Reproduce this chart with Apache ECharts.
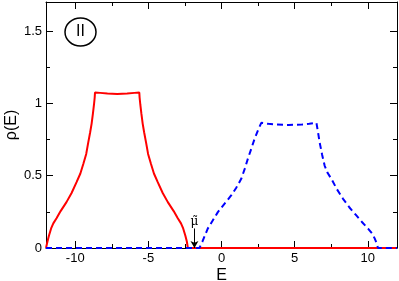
<!DOCTYPE html>
<html>
<head>
<meta charset="utf-8">
<script src="https://cdn.jsdelivr.net/npm/echarts@6/dist/echarts.min.js"></script>
<style>html,body{margin:0;padding:0;background:#fff}#c{width:399px;height:281px}</style>
</head>
<body>
<div id="c"></div>
<script>
// Tick values
const xMajorTicks = [-10, -5, 0, 5, 10];
const xMinorTicks = [-7.5, -2.5, 2.5, 7.5];
const yMajorTicks = [0, 0.5, 1, 1.5];
const yMinorTicks = [0.25, 0.75, 1.25];

// Red solid curve (E, rho)
const redE   = [-12, -11.9, -11.8, -11.65, -11.5, -11.28, -11.0, -10.6, -10.25, -9.91, -9.65, -9.45, -9.25, -9.11, -8.98, -8.88, -8.79, -8.72, -8.67, -8.65,
                -8.3, -7.8, -7.13, -6.45, -5.95,
                -5.62, -5.60, -5.55, -5.48, -5.39, -5.29, -5.16, -5.02, -4.82, -4.62, -4.36, -4.02, -3.67, -3.27, -2.99, -2.77, -2.62, -2.47, -2.37, -2.3, 12];
const redRho = [0, 0.045, 0.085, 0.135, 0.17, 0.205, 0.255, 0.317, 0.38, 0.455, 0.515, 0.58, 0.65, 0.73, 0.80, 0.86, 0.93, 0.99, 1.04, 1.075,
                1.072, 1.067, 1.065, 1.067, 1.072,
                1.075, 1.04, 0.99, 0.93, 0.86, 0.80, 0.73, 0.65, 0.58, 0.515, 0.455, 0.38, 0.317, 0.255, 0.205, 0.17, 0.135, 0.085, 0.045, 0, 0];

// Blue dashed curve (E, rho)
const blueE   = [-12, -1.51, -1.3, -1.1, -0.94, -0.6, -0.25, 0.2, 0.66, 1.0, 1.35, 1.6, 1.8, 2.05, 2.26, 2.5, 2.72,
                 3.2, 3.7, 4.6, 5.5, 6.0,
                 6.49, 6.6, 6.71, 6.88, 7.05, 7.25, 7.51, 7.9, 8.31, 8.75, 9.22, 9.62, 10.02, 10.3, 10.48, 10.62, 10.7, 12];
const blueRho = [0, 0, 0.045, 0.095, 0.134, 0.19, 0.248, 0.305, 0.363, 0.415, 0.478, 0.55, 0.616, 0.69, 0.754, 0.815, 0.865,
                 0.858, 0.853, 0.85, 0.853, 0.858,
                 0.865, 0.80, 0.73, 0.645, 0.57, 0.52, 0.478, 0.405, 0.34, 0.28, 0.225, 0.178, 0.134, 0.10, 0.065, 0.03, 0, 0];

// Annotation: mu-tilde arrow
const muTildeE = -1.85;
const muArrowTop = 0.135;
const muLabel = 'μ̃';
const panelLabel = 'II';

const redData = redE.map((e, i) => [e, redRho[i]]);
const blueData = blueE.map((e, i) => [e, blueRho[i]]);

const font = 'Liberation Sans, Arial, Helvetica, sans-serif';
const black = '#000';

function xAx(position, ticks, len, showLine, showLabels, extra) {
  return Object.assign({
    type: 'value', position: position, min: -12, max: 12,
    axisLine: {show: showLine, onZero: false, lineStyle: {color: black, width: 1}},
    axisTick: {show: true, inside: true, length: len, customValues: ticks, lineStyle: {color: black, width: 1}},
    axisLabel: showLabels ? {show: true, customValues: ticks, color: black, fontSize: 13, fontFamily: font, margin: 4} : {show: false},
    splitLine: {show: false}
  }, extra || {});
}
function yAx(position, ticks, len, showLine, showLabels, extra) {
  return Object.assign({
    type: 'value', position: position, min: 0, max: 1.7,
    axisLine: {show: showLine, onZero: false, lineStyle: {color: black, width: 1}},
    axisTick: {show: true, inside: true, length: len, customValues: ticks, lineStyle: {color: black, width: 1}},
    axisLabel: showLabels ? {show: true, customValues: ticks, color: black, fontSize: 13, fontFamily: font, margin: 4} : {show: false},
    splitLine: {show: false}
  }, extra || {});
}

const chart = echarts.init(document.getElementById('c'), null, {renderer: 'canvas'});
chart.setOption({
  animation: false,
  backgroundColor: '#fff',
  grid: {left: 46, right: 2, top: 2, bottom: 33, containLabel: false, outerBoundsMode: 'none'},
  xAxis: [
    xAx('bottom', xMajorTicks, 7, true, true, {name: 'E', nameLocation: 'middle', nameGap: 20, nameMoveOverlap: false,
      nameTextStyle: {fontSize: 16, color: black, fontFamily: font}}),
    xAx('bottom', xMinorTicks, 4, false, false),
    xAx('top', xMajorTicks, 7, true, false),
    xAx('top', xMinorTicks, 4, false, false)
  ],
  yAxis: [
    yAx('left', yMajorTicks, 7, true, true, {name: 'ρ(E)', nameLocation: 'middle', nameGap: 26, nameMoveOverlap: false,
      nameTextStyle: {fontSize: 16, color: black, fontFamily: font}}),
    yAx('left', yMinorTicks, 4, false, false),
    yAx('right', yMajorTicks, 7, true, false),
    yAx('right', yMinorTicks, 4, false, false)
  ],
  series: [
    {
      type: 'line', xAxisIndex: 0, yAxisIndex: 0, data: redData, showSymbol: false, smooth: false,
      lineStyle: {color: '#ff0000', width: 2}, z: 3
    },
    {
      type: 'line', xAxisIndex: 0, yAxisIndex: 0, data: blueData, showSymbol: false, smooth: false,
      lineStyle: {color: '#0000ff', width: 2, type: [6, 4]}, z: 4,
      markLine: {
        silent: true, symbol: ['none', 'arrow'], symbolSize: [6, 7],
        lineStyle: {color: black, width: 1, type: 'solid'},
        label: {show: false},
        data: [[{coord: [muTildeE, muArrowTop]}, {coord: [muTildeE, 0]}]]
      },
      markPoint: {
        silent: true, symbol: 'circle', symbolSize: 0,
        data: [{coord: [muTildeE, muArrowTop], label: {show: true, formatter: muLabel, position: 'top', distance: 1,
          color: black, fontSize: 12, fontFamily: 'DejaVu Serif, serif'}}]
      }
    }
  ],
  graphic: [
    {type: 'ellipse', shape: {cx: 80.5, cy: 32, rx: 15.5, ry: 14}, style: {fill: 'none', stroke: black, lineWidth: 1.5}},
    {type: 'text', x: 80.5, y: 32, style: {text: panelLabel, fill: black, fontSize: 16, fontFamily: font, align: 'center', verticalAlign: 'middle'}}
  ]
});
</script>
</body>
</html>
